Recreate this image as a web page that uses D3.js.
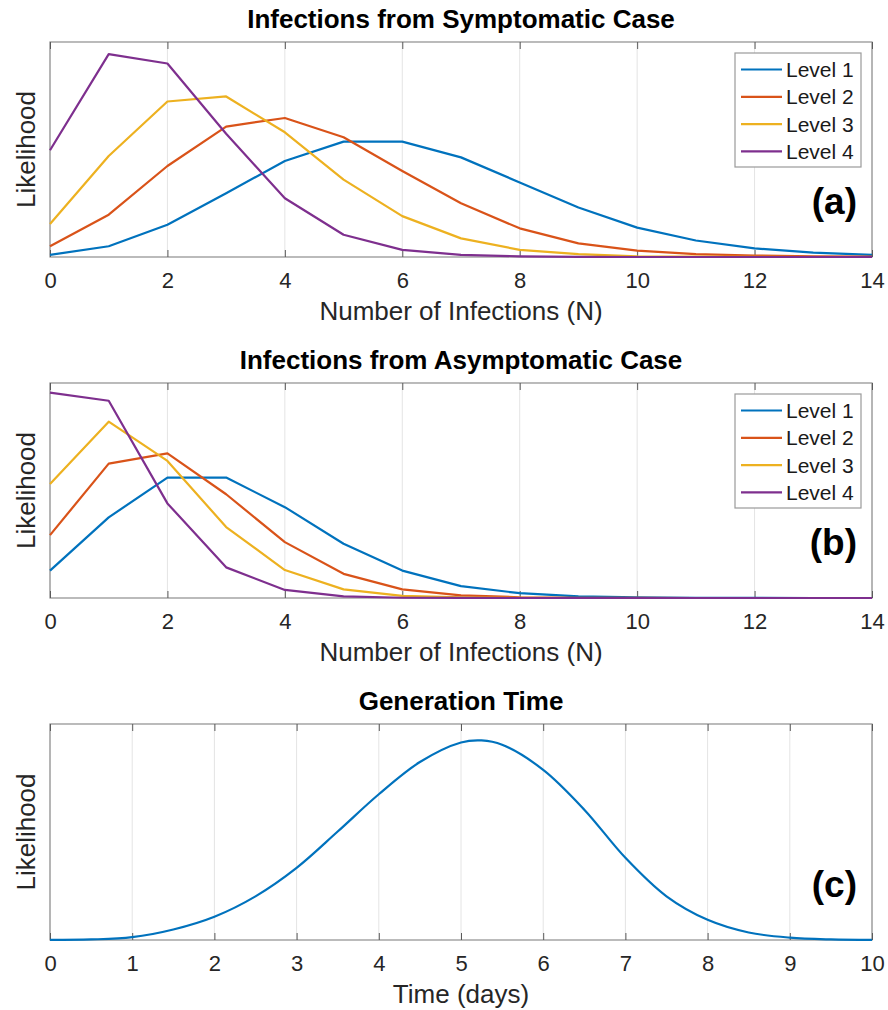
<!DOCTYPE html>
<html>
<head>
<meta charset="utf-8">
<script src="https://cdn.jsdelivr.net/npm/d3@7"></script>
<style>
    body { margin: 0; background: #fff; }
    svg text { font-family: "Liberation Sans", Arial, Helvetica, sans-serif; }
</style>
</head>
<body>
<svg id="chart" width="888" height="1010"></svg>
<script>
// values
const levelNames = ["Level 1", "Level 2", "Level 3", "Level 4"];
const infections = [0, 1, 2, 3, 4, 5, 6, 7, 8, 9, 10, 11, 12, 13, 14];
const infectionTicks = [0, 2, 4, 6, 8, 10, 12, 14];

const symptomaticL1 = [0.003, 0.015, 0.045, 0.089, 0.134, 0.161, 0.161, 0.139, 0.104, 0.069, 0.041, 0.023, 0.012, 0.006, 0.003];
const symptomaticL2 = [0.015, 0.059, 0.127, 0.182, 0.194, 0.167, 0.120, 0.075, 0.040, 0.019, 0.009, 0.004, 0.002, 0.001, 0.0005];
const symptomaticL3 = [0.046, 0.141, 0.217, 0.224, 0.174, 0.108, 0.057, 0.026, 0.010, 0.004, 0.001, 0.0004, 0.0001, 0, 0];
const symptomaticL4 = [0.149, 0.283, 0.270, 0.172, 0.082, 0.031, 0.010, 0.003, 0.001, 0.0002, 0, 0, 0, 0, 0];

const asymptomaticL1 = [0.051, 0.150, 0.224, 0.224, 0.169, 0.101, 0.051, 0.022, 0.009, 0.003, 0.001, 0.0003, 0.0001, 0, 0];
const asymptomaticL2 = [0.117, 0.250, 0.269, 0.193, 0.104, 0.045, 0.016, 0.005, 0.0014, 0.0003, 0.0001, 0, 0, 0, 0];
const asymptomaticL3 = [0.212, 0.328, 0.255, 0.132, 0.052, 0.016, 0.004, 0.001, 0.0002, 0, 0, 0, 0, 0, 0];
const asymptomaticL4 = [0.382, 0.367, 0.176, 0.057, 0.015, 0.003, 0.0005, 0.0001, 0, 0, 0, 0, 0, 0, 0];

const genDays = [0, 0.5, 1, 1.5, 2, 2.5, 3, 3.5, 4, 4.5, 5, 5.25, 5.5, 6, 6.5, 7, 7.5, 8, 8.5, 9, 9.5, 10];
const genLikelihood = [0.0001, 0.0006, 0.003, 0.0112, 0.0248, 0.0465, 0.0768, 0.1155, 0.1552, 0.1895, 0.2103, 0.2125, 0.2079, 0.1812, 0.1388, 0.0875, 0.0465, 0.0215, 0.0080, 0.0025, 0.0006, 0.0001];
const dayTicks = [0, 1, 2, 3, 4, 5, 6, 7, 8, 9, 10];

const colors = ["#0072BD", "#D95319", "#EDB120", "#7E2F8E"];

const svg = d3.select("#chart");
const left = 50, right = 872;

const panels = [
    {
        title: "Infections from Symptomatic Case", tag: "(a)", top: 42, bottom: 257,
        xDomain: [0, 14], ticks: infectionTicks, yMax: 0.3, xLabel: "Number of Infections (N)",
        series: [symptomaticL1, symptomaticL2, symptomaticL3, symptomaticL4].map((v) => infections.map((x, i) => [x, v[i]])),
        legend: true, smooth: false,
    },
    {
        title: "Infections from Asymptomatic Case", tag: "(b)", top: 383, bottom: 598,
        xDomain: [0, 14], ticks: infectionTicks, yMax: 0.4, xLabel: "Number of Infections (N)",
        series: [asymptomaticL1, asymptomaticL2, asymptomaticL3, asymptomaticL4].map((v) => infections.map((x, i) => [x, v[i]])),
        legend: true, smooth: false,
    },
    {
        title: "Generation Time", tag: "(c)", top: 724, bottom: 940,
        xDomain: [0, 10], ticks: dayTicks, yMax: 0.23, xLabel: "Time (days)",
        series: [genDays.map((x, i) => [x, genLikelihood[i]])],
        legend: false, smooth: true,
    },
];

panels.forEach(drawPanel);

function drawPanel(p) {
    const g = svg.append("g");
    const h = p.bottom - p.top;

    const x = d3.scaleLinear().domain(p.xDomain).range([left, right]);
    const y = d3.scaleLinear().domain([0, p.yMax]).range([p.bottom, p.top]);

    // grid
    g.selectAll(".grid")
        .data(p.ticks)
        .join("line")
        .attr("x1", (d) => x(d))
        .attr("x2", (d) => x(d))
        .attr("y1", p.top)
        .attr("y2", p.bottom)
        .attr("stroke", "#e4e4e4")
        .attr("stroke-width", 1);

    // box
    g.append("rect")
        .attr("x", left)
        .attr("y", p.top)
        .attr("width", right - left)
        .attr("height", h)
        .attr("fill", "none")
        .attr("stroke", "#8e8e8e")
        .attr("stroke-width", 1.2);

    // ticks (inward), bottom with labels, top without
    const bottomAxis = g.append("g")
        .attr("transform", `translate(0,${p.bottom})`)
        .call(d3.axisBottom(x).tickValues(p.ticks).tickSizeInner(-7).tickSizeOuter(0));
    bottomAxis.select(".domain").remove();
    bottomAxis.selectAll("line").attr("stroke", "#5a5a5a");
    bottomAxis.selectAll("text")
        .attr("y", 31)
        .attr("dy", null)
        .attr("fill", "#262626")
        .style("font-size", "22px");

    const topAxis = g.append("g")
        .attr("transform", `translate(0,${p.top})`)
        .call(d3.axisTop(x).tickValues(p.ticks).tickSizeInner(-7).tickSizeOuter(0).tickFormat(""));
    topAxis.select(".domain").remove();
    topAxis.selectAll("line").attr("stroke", "#5a5a5a");

    // lines
    const line = d3.line()
        .x((d) => x(d[0]))
        .y((d) => y(d[1]))
        .curve(p.smooth ? d3.curveCatmullRom : d3.curveLinear);

    g.selectAll(".series")
        .data(p.series)
        .join("path")
        .attr("d", line)
        .attr("fill", "none")
        .attr("stroke", (d, i) => colors[i])
        .attr("stroke-width", 2.2)
        .attr("stroke-linejoin", "round");

    // titles and labels
    g.append("text")
        .attr("x", (left + right) / 2)
        .attr("y", p.top - 14)
        .attr("text-anchor", "middle")
        .style("font-size", "26px")
        .style("font-weight", "bold")
        .attr("fill", "#000")
        .text(p.title);

    g.append("text")
        .attr("x", (left + right) / 2)
        .attr("y", p.bottom + 63)
        .attr("text-anchor", "middle")
        .style("font-size", "26px")
        .attr("fill", "#262626")
        .text(p.xLabel);

    g.append("text")
        .attr("transform", `translate(35,${(p.top + p.bottom) / 2}) rotate(-90)`)
        .attr("text-anchor", "middle")
        .style("font-size", "26px")
        .attr("fill", "#262626")
        .text("Likelihood");

    g.append("text")
        .attr("x", 857)
        .attr("y", p.bottom - 43)
        .attr("text-anchor", "end")
        .style("font-size", "37px")
        .style("font-weight", "bold")
        .attr("fill", "#000")
        .text(p.tag);

    if (p.legend) {
        const lg = g.append("g").attr("transform", `translate(735,${p.top + 11})`);
        lg.append("rect")
            .attr("width", 126)
            .attr("height", 114)
            .attr("fill", "#fff")
            .attr("stroke", "#9a9a9a")
            .attr("stroke-width", 1.2);
        const rows = lg.selectAll(".row")
            .data(levelNames)
            .join("g")
            .attr("transform", (d, i) => `translate(0,${16.5 + i * 27.3})`);
        rows.append("line")
            .attr("x1", 6)
            .attr("x2", 47)
            .attr("stroke", (d, i) => colors[i])
            .attr("stroke-width", 2.2);
        rows.append("text")
            .attr("x", 51)
            .attr("dy", "0.36em")
            .style("font-size", "21px")
            .attr("fill", "#1a1a1a")
            .text((d) => d);
    }
}
</script>
</body>
</html>
